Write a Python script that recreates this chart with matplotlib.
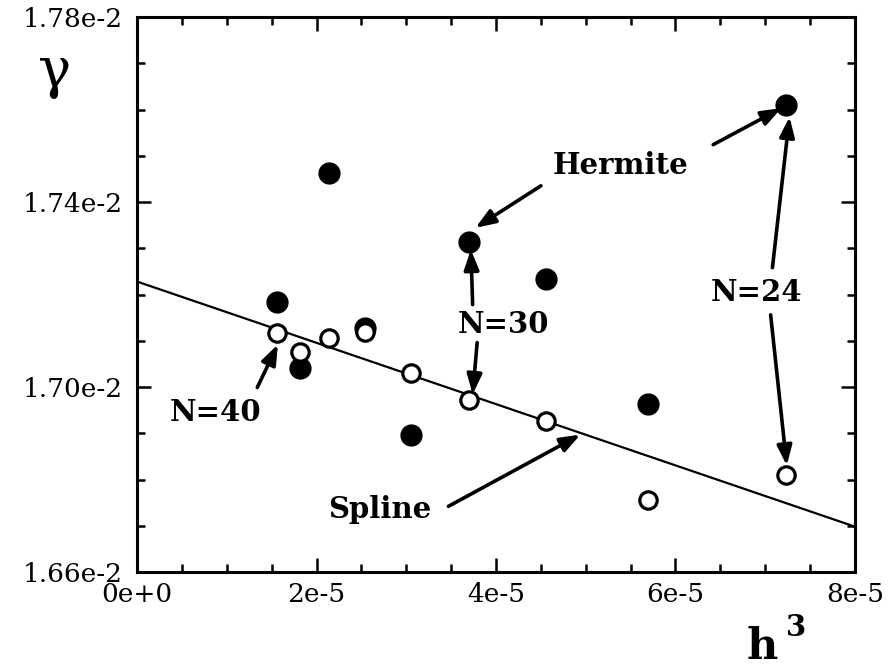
import matplotlib
matplotlib.use("Agg")
import matplotlib.pyplot as plt
from matplotlib.ticker import MultipleLocator, FixedLocator, FixedFormatter

# h^3 for N = 24, 26, ..., 40
h3 = [7.23e-5, 5.69e-5, 4.56e-5, 3.70e-5, 3.05e-5, 2.54e-5, 2.14e-5, 1.82e-5, 1.56e-5]
gamma_hermite = [0.01761, 0.016964, 0.017234, 0.017314, 0.016897, 0.017128, 0.017463, 0.017042, 0.017184]
gamma_spline = [0.016809, 0.016755, 0.016927, 0.016971, 0.017031, 0.017118, 0.017105, 0.017076, 0.017117]

# straight-line extrapolation of the spline values
fit_x = [0.0, 8e-5]
fit_y = [0.017228, 0.016698]

xticks = [0, 2e-5, 4e-5, 6e-5, 8e-5]
xticklabels = ["0e+0", "2e-5", "4e-5", "6e-5", "8e-5"]
yticks = [0.0166, 0.0170, 0.0174, 0.0178]
yticklabels = ["1.66e-2", "1.70e-2", "1.74e-2", "1.78e-2"]

serif = ["DejaVu Serif"]

fig = plt.figure(figsize=(8.95, 6.71), dpi=100)
ax = fig.add_axes([137 / 895, 1 - 572 / 671, (855 - 137) / 895, (572 - 17) / 671])

ax.plot(fit_x, fit_y, color="black", lw=1.6, zorder=2)
ax.plot(h3, gamma_hermite, "o", ms=15, color="black", zorder=3)
ax.plot(h3, gamma_spline, "o", ms=12.5, mfc="white", mec="black", mew=2.3, zorder=4)

ax.set_xlim(0, 8e-5)
ax.set_ylim(0.0166, 0.0178)

ax.xaxis.set_major_locator(FixedLocator(xticks))
ax.xaxis.set_major_formatter(FixedFormatter(xticklabels))
ax.xaxis.set_minor_locator(MultipleLocator(0.5e-5))
ax.yaxis.set_major_locator(FixedLocator(yticks))
ax.yaxis.set_major_formatter(FixedFormatter(yticklabels))
ax.yaxis.set_minor_locator(MultipleLocator(0.0001))

ax.tick_params(which="both", direction="in", top=True, right=True, width=1.8,
               labelsize=19)
ax.tick_params(axis="y", pad=10)
ax.tick_params(axis="x", pad=7)
ax.tick_params(which="major", length=10)
ax.tick_params(which="minor", length=6)
for lab in ax.get_xticklabels() + ax.get_yticklabels():
    lab.set_family(serif)
for sp in ax.spines.values():
    sp.set_linewidth(2.2)

# annotation texts
tkw = dict(family=serif, fontweight="bold", fontsize=21, ha="center", va="center")
ax.text(5.39e-5, 0.01748, "Hermite", **tkw)
ax.text(4.08e-5, 0.017135, "N=30", **tkw)
ax.text(6.90e-5, 0.017204, "N=24", **tkw)
ax.text(0.87e-5, 0.016945, "N=40", **tkw)
ax.text(2.71e-5, 0.016735, "Spline", **tkw)

arrows = [
    ((4.50e-5, 0.017435), (3.77e-5, 0.017344)),
    ((6.42e-5, 0.017524), (7.18e-5, 0.017603)),
    ((3.74e-5, 0.017178), (3.72e-5, 0.017297)),
    ((3.79e-5, 0.017096), (3.74e-5, 0.016984)),
    ((7.08e-5, 0.017258), (7.27e-5, 0.017584)),
    ((7.06e-5, 0.017156), (7.24e-5, 0.016830)),
    ((1.34e-5, 0.016999), (1.57e-5, 0.017092)),
    ((3.47e-5, 0.016742), (4.94e-5, 0.016897)),
]
for start, end in arrows:
    ax.annotate("", xy=end, xytext=start,
                arrowprops=dict(arrowstyle="-|>,head_length=1.2,head_width=0.45",
                                color="black", lw=2.6, shrinkA=0, shrinkB=0),
                zorder=5)

# axis symbols
fig.text(55 / 895, 1 - 72 / 671, "γ", family=serif, fontsize=40,
         ha="center", va="center")
fig.text(762 / 895, 1 - 668 / 671, "h", family=serif, fontweight="bold",
         fontsize=31, ha="center", va="bottom")
fig.text(796 / 895, 1 - 628 / 671, "3", family=serif, fontweight="bold",
         fontsize=21, ha="center", va="center")

fig.savefig("out.png", dpi=100)
